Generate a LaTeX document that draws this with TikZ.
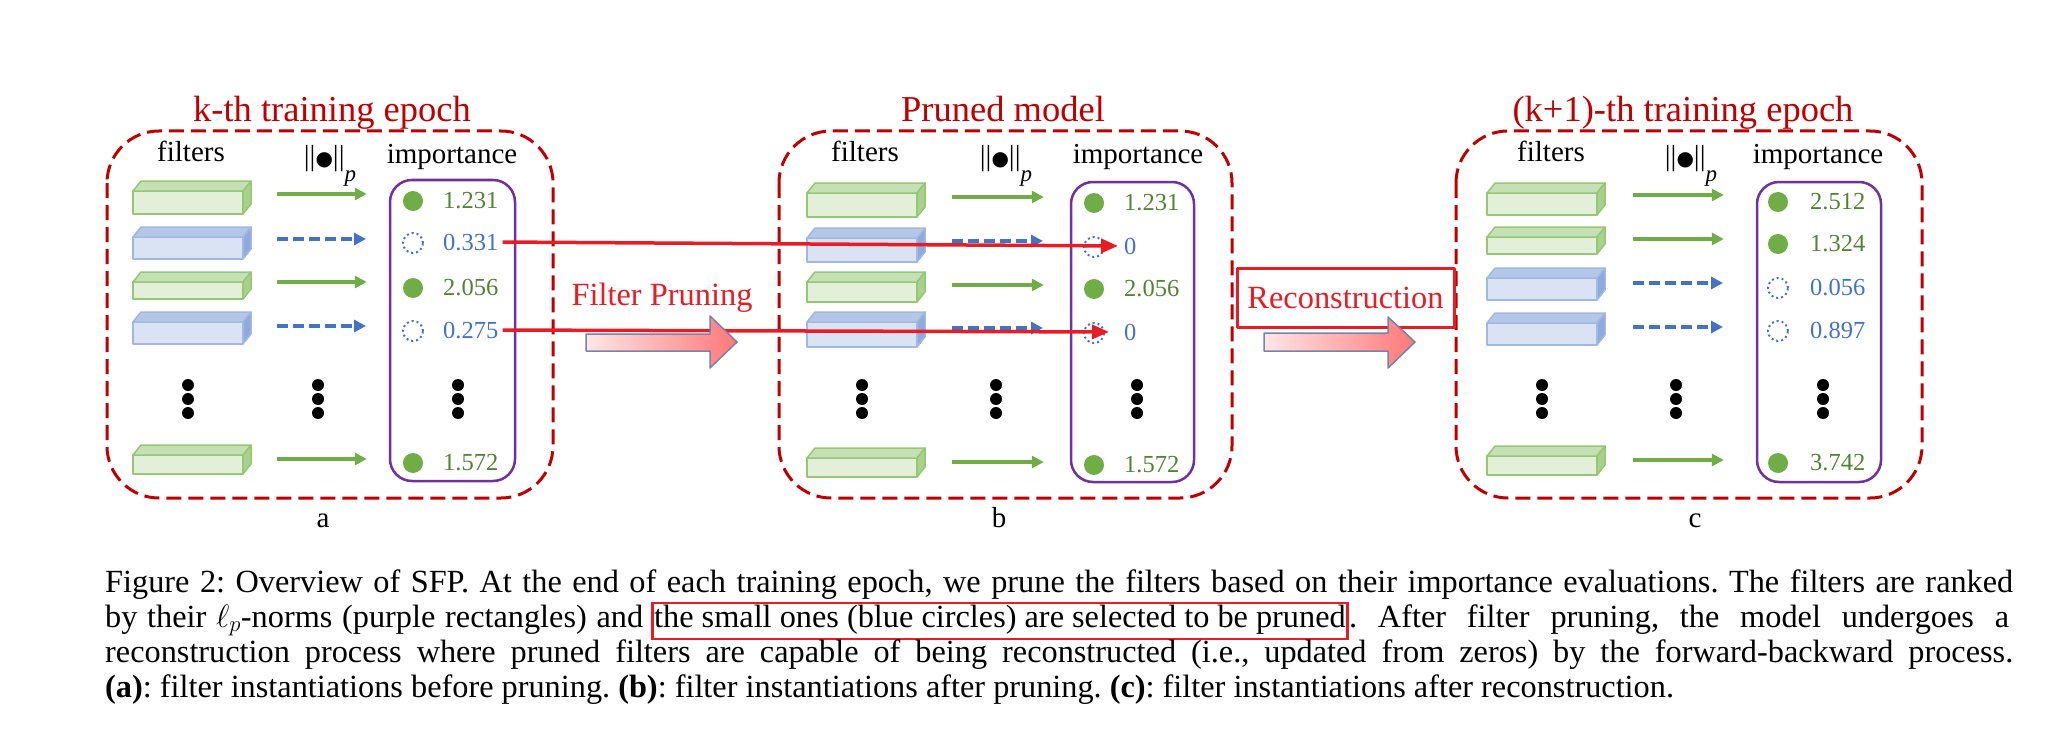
\RequirePackage{fix-cm}
\documentclass[tikz,border=0pt]{standalone}
\usepackage{fontspec}
\setmainfont{Liberation Serif}
\newfontfamily\symfont{DejaVu Sans}
\usetikzlibrary{arrows.meta}
\definecolor{epochred}{RGB}{192,0,0}
\definecolor{brightred}{RGB}{232,28,36}
\definecolor{keepgreen}{RGB}{112,173,71}
\definecolor{numgreen}{RGB}{84,130,53}
\definecolor{dropblue}{RGB}{68,114,196}
\definecolor{normpurple}{RGB}{112,48,160}
\definecolor{gfront}{RGB}{226,240,217}
\definecolor{gtop}{RGB}{197,224,180}
\definecolor{gside}{RGB}{169,209,142}
\definecolor{gedge}{RGB}{150,200,115}
\definecolor{bfront}{RGB}{218,227,243}
\definecolor{btop}{RGB}{180,199,231}
\definecolor{bside}{RGB}{143,170,220}
\definecolor{bedge}{RGB}{160,185,228}
\definecolor{arrowpink}{RGB}{255,230,230}
\definecolor{arrowsalmon}{RGB}{255,120,120}
\definecolor{arrowedge}{RGB}{120,130,170}
\newlength{\capw}
\setlength{\capw}{1908pt}
\newcommand{\titlesize}{\fontsize{36.5pt}{40pt}\selectfont}
\newcommand{\headsize}{\fontsize{29pt}{34pt}\selectfont}
\newcommand{\numsize}{\fontsize{24.5pt}{28pt}\selectfont}
\newcommand{\stepsize}{\fontsize{32.4pt}{38pt}\selectfont}
\newcommand{\capsize}{\fontsize{32.3pt}{35pt}\selectfont\frenchspacing}
\newcommand{\pnorm}{||{\symfont\fontsize{20pt}{20pt}\selectfont ●}||\raisebox{-17pt}{\fontsize{23pt}{23pt}\selectfont\itshape p}}
\newcommand{\redframe}[1]{{\setlength{\fboxsep}{0.5pt}\setlength{\fboxrule}{2.5pt}\color{brightred}\fbox{\color{black}\rule[-10pt]{0pt}{27pt}#1}}}
% top and side face of a filter block: node, g/b, front height
\newcommand{\filtfaces}[3]{%
  \draw[#2face, fill=#2top] (#1.north west) -- ++(8,-10) -- ++(110,0) -- (#1.north east) -- cycle;
  \draw[#2face, fill=#2side] (#1.north east) -- ++(8,-10) -- ++(0,#3) -- (#1.south east) -- cycle;}
\tikzstyle{every picture}+=[x=1pt,y=-1pt]
\tikzstyle{every picture}+=[>={Triangle[length=12pt,width=12pt]}]
\tikzstyle{every picture}+=[line join=round]
\tikzstyle{epochbox}=[draw=epochred, line width=3pt, dash pattern=on 15pt off 7pt, rounded corners=52pt]
\tikzstyle{normbox}=[draw=normpurple, line width=2.5pt, rounded corners=22pt]
\tikzstyle{gface}=[draw=gedge, line width=1.5pt]
\tikzstyle{bface}=[draw=bedge, line width=1.5pt]
\tikzstyle{gfilt}=[gface, fill=gfront, anchor=north west, minimum width=110pt, inner sep=0pt, outer sep=0pt]
\tikzstyle{bfilt}=[bface, fill=bfront, anchor=north west, minimum width=110pt, inner sep=0pt, outer sep=0pt]
\tikzstyle{gline}=[->, draw=keepgreen, line width=4pt]
\tikzstyle{bline}=[->, draw=dropblue, line width=4pt, dash pattern=on 11pt off 5pt]
\tikzstyle{gdot}=[circle, fill=keepgreen, minimum size=20pt, inner sep=0pt]
\tikzstyle{bdot}=[circle, draw=dropblue, line width=2pt, dash pattern=on 2pt off 3pt, minimum size=20pt, inner sep=0pt]
\tikzstyle{gnum}=[anchor=base west, text=numgreen, font=\numsize, inner sep=0pt]
\tikzstyle{bnum}=[anchor=base west, text=dropblue, font=\numsize, inner sep=0pt]
\tikzstyle{vdot}=[circle, fill=black, minimum size=12pt, inner sep=0pt]
\tikzstyle{cut}=[-{Triangle[length=17pt,width=14pt]}, draw=brightred, line width=3.5pt]
\tikzstyle{epochtitle}=[anchor=base, text=epochred, font=\titlesize, inner sep=0pt]
\tikzstyle{head}=[anchor=base, font=\headsize, inner sep=0pt]
\tikzstyle{stepname}=[text=brightred, font=\stepsize, inner sep=0pt]
\tikzstyle{captext}=[anchor=base west, font=\capsize, inner sep=0pt]
\tikzstyle{bigarrow}=[left color=arrowpink, right color=arrowsalmon, draw=arrowedge, line width=1.5pt]
\begin{document}
\begin{tikzpicture}
\useasboundingbox (0,0) rectangle (2070,733);

% the three epochs
\draw[epochbox] (107,131) rectangle (553,498);
\draw[epochbox] (779,131) rectangle (1232,498);
\draw[epochbox] (1456,131) rectangle (1922,498);
\node[epochtitle] (ta) at (332,122) {k-th training epoch};
\node[epochtitle] (tb) at (1003,122) {Pruned model};
\node[epochtitle] (tc) at (1683,122) {(k+1)-th training epoch};

\draw[normbox] (390,180) rectangle (515,481);
\draw[normbox] (1071,182) rectangle (1194,482);
\draw[normbox] (1757,182) rectangle (1881,482);

\node[head] (fha) at (191,161) {filters};
\node[head] (pha) at (330,165) {\pnorm};
\node[head] (iha) at (452,164) {importance};
\node[head] (fhb) at (865,161) {filters};
\node[head] (phb) at (1006,165) {\pnorm};
\node[head] (ihb) at (1138,164) {importance};
\node[head] (fhc) at (1551,161) {filters};
\node[head] (phc) at (1691,165) {\pnorm};
\node[head] (ihc) at (1818,164) {importance};

% panel a
\foreach \n/\ft/\fh/\k/\ay/\dy/\val in {1/191/23/g/194/201/1.231, 2/237/22/b/239/243/0.331,
    3/282/17/g/282/288/2.056, 4/322/22/b/326/331/0.275, 5/455/19/g/459/463/1.572}{
  \node[\k filt, minimum height=\fh] (fa\n) at (133,\ft) {};
  \filtfaces{fa\n}{\k}{\fh}
  \coordinate (ra\n) at (0,\ay);
  \node[\k dot] (da\n) at (413,\dy) {};
  \node[\k num] (na\n) at (443,\dy+7) {\val};
  \draw[\k line] ([xshift=34pt]fa\n.east |- ra\n) -- ([xshift=-36pt]da\n.west |- ra\n);
}
% panel b
\foreach \n/\ft/\fh/\k/\ay/\dy/\val in {1/193/24/g/197/203/1.231, 2/238/24/b/241/247/0,
    3/282/20/g/285/289/2.056, 4/322/25/b/328/333/0, 5/458/19/g/462/465/1.572}{
  \node[\k filt, minimum height=\fh] (fb\n) at (807,\ft) {};
  \filtfaces{fb\n}{\k}{\fh}
  \coordinate (rb\n) at (0,\ay);
  \node[\k dot] (db\n) at (1094,\dy) {};
  \node[\k num] (nb\n) at (1124,\dy+7) {\val};
  \draw[\k line] ([xshift=35pt]fb\n.east |- rb\n) -- ([xshift=-40pt]db\n.west |- rb\n);
}
% panel c
\foreach \n/\ft/\fh/\k/\ay/\dy/\val in {1/193/22/g/195/202/2.512, 2/237/17/g/239/244/1.324,
    3/278/22/b/283/288/0.056, 4/323/22/b/327/331/0.897, 5/456/19/g/460/463/3.742}{
  \node[\k filt, minimum height=\fh] (fc\n) at (1487,\ft) {};
  \filtfaces{fc\n}{\k}{\fh}
  \coordinate (rc\n) at (0,\ay);
  \node[\k dot] (dc\n) at (1778,\dy) {};
  \node[\k num] (nc\n) at (1810,\dy+7) {\val};
  \draw[\k line] ([xshift=36pt]fc\n.east |- rc\n) -- ([xshift=-44pt]dc\n.west |- rc\n);
}

% vertical dots
\foreach \p/\x in {a1/188, a2/318, a3/458, b1/862, b2/996, b3/1137, c1/1542, c2/1676, c3/1823}
  \foreach \i/\y in {1/385, 2/399, 3/413}
    \node[vdot] (v\p\i) at (\x,\y) {};

% small filters are set to zero
\draw[cut] ([xshift=4pt]na2.east) -- ([xshift=-6pt]nb2.west);
\draw[cut] ([xshift=4pt]na4.east) -- ([xshift=-15pt]nb4.west);

% steps between epochs
\node[stepname, anchor=base] (prune) at (662,305) {Filter Pruning};
\shadedraw[bigarrow] (586,334) -- (710,334) -- (710,316) -- (737,342) -- (710,368) -- (710,351) -- (586,351) -- cycle;
\node[stepname, draw=brightred, line width=3pt, minimum width=217pt, minimum height=59pt] (recon) at (1345.5,297.5) {Reconstruction};
\shadedraw[bigarrow] (1264,333) -- (1388,333) -- (1388,317) -- (1415,342) -- (1388,368) -- (1388,351) -- (1264,351) -- cycle;

\node[head] (la) at (323,527) {a};
\node[head] (lb) at (999,527) {b};
\node[head] (lc) at (1695,527) {c};

% caption
\node[captext] (cap1) at (105,592) {\makebox[\capw][s]{Figure 2: Overview of SFP. At the end of each training epoch, we prune the filters based on their importance evaluations. The filters are ranked}};
\node[captext] (cap2a) at (105,627) {\makebox[538pt][s]{by their $\ell_p$-norms (purple rectangles) and}};
\node[captext] (cap2b) at (651,627) {\redframe{the small ones (blue circles) are selected to be pruned}};
\node[captext] (cap2c) at (cap2b.base east) {\makebox[660pt][s]{. After filter pruning, the model undergoes a}};
\node[captext] (cap3) at (105,662) {\makebox[\capw][s]{reconstruction process where pruned filters are capable of being reconstructed (i.e., updated from zeros) by the forward-backward process.}};
\node[captext] (cap4) at (105,697) {\textbf{(a)}: filter instantiations before pruning. \textbf{(b)}: filter instantiations after pruning. \textbf{(c)}: filter instantiations after reconstruction.};
\end{tikzpicture}
\end{document}
